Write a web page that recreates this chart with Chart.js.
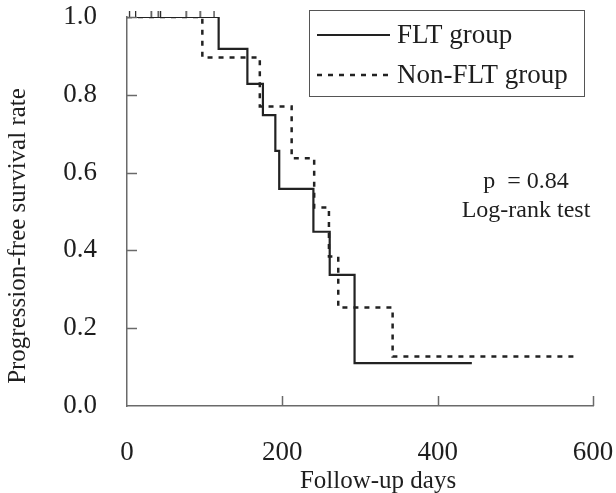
<!DOCTYPE html>
<html>
<head>
<meta charset="utf-8">
<script src="https://cdn.jsdelivr.net/npm/chart.js@4.4.0/dist/chart.umd.min.js"></script>
<style>
  html, body { margin: 0; padding: 0; background: #fff; }
</style>
</head>
<body>
<canvas id="km" width="616" height="493"></canvas>
<script>
// FLT group (solid line): day of each drop and the survival after it
var fltDays = [0, 118, 155, 175, 191, 196, 240, 261, 293, 444];
var fltSurv = [1.0, 0.918, 0.828, 0.748, 0.656, 0.558, 0.448, 0.337, 0.110, 0.110];
// Non-FLT group (dashed line)
var nonDays = [0, 97, 171, 212, 241, 260, 272, 342, 578];
var nonSurv = [1.0, 0.896, 0.770, 0.637, 0.510, 0.384, 0.253, 0.127, 0.127];
// censored cases, small ticks on the top line
var censorDays = [3, 11, 31, 40, 43, 76, 94, 112];
var censorSurv = [1, 1, 1, 1, 1, 1, 1, 1];

var xTicks = [0, 200, 400, 600];
var yTicks = [0, 0.2, 0.4, 0.6, 0.8, 1.0];
var groupNames = ['FLT group', 'Non-FLT group'];
var statLines = ['p  = 0.84', 'Log-rank test'];
var xTitle = 'Follow-up days';
var yTitle = 'Progression-free survival rate';

var SERIF = '"Liberation Serif", "DejaVu Serif", serif';
var INK = '#1e1e1e';
var AXIS = '#6a6a6a';

function pts(xs, ys) {
  return xs.map(function (x, i) { return { x: x, y: ys[i] }; });
}

// censor mark: short vertical stroke above the point
var tickImg = document.createElement('canvas');
tickImg.width = 3;
tickImg.height = 14;
var tc = tickImg.getContext('2d');
tc.fillStyle = '#222';
tc.fillRect(1, 1, 1.2, 6);

var extras = {
  id: 'extras',
  afterDraw: function (chart) {
    var ctx = chart.ctx;
    var xs = chart.scales.x, ys = chart.scales.y;
    var area = chart.chartArea;
    ctx.save();

    // inward tick marks
    ctx.strokeStyle = AXIS;
    ctx.lineWidth = 1.5;
    xTicks.forEach(function (v) {
      if (v === 0) return;
      var px = Math.round(xs.getPixelForValue(v)) + 0.5;
      ctx.beginPath();
      ctx.moveTo(px, area.bottom);
      ctx.lineTo(px, area.bottom - 10);
      ctx.stroke();
    });
    yTicks.forEach(function (v) {
      if (v === 0) return;
      var py = Math.round(ys.getPixelForValue(v)) + 0.5;
      ctx.beginPath();
      ctx.moveTo(area.left, py);
      ctx.lineTo(area.left + 10, py);
      ctx.stroke();
    });

    // axis titles
    ctx.fillStyle = INK;
    ctx.textAlign = 'center';
    ctx.textBaseline = 'middle';
    ctx.font = '25px ' + SERIF;
    ctx.fillText(xTitle, 378, 481);
    ctx.translate(18, 236);
    ctx.rotate(-Math.PI / 2);
    ctx.fillText(yTitle, 0, 0);
    ctx.setTransform(1, 0, 0, 1, 0, 0);

    // log-rank note
    ctx.font = '24px ' + SERIF;
    ctx.fillText(statLines[0], 526, 182);
    ctx.fillText(statLines[1], 526, 211);

    // legend box
    ctx.strokeStyle = '#555';
    ctx.lineWidth = 1;
    ctx.strokeRect(309.5, 10.5, 275, 86);
    ctx.font = '27px ' + SERIF;
    ctx.textAlign = 'left';
    [0, 1].forEach(function (i) {
      var ds = chart.data.datasets[i];
      var y = i === 0 ? 35 : 75;
      ctx.strokeStyle = ds.borderColor;
      ctx.lineWidth = ds.borderWidth;
      ctx.setLineDash(ds.borderDash || []);
      ctx.beginPath();
      ctx.moveTo(317, y);
      ctx.lineTo(390, y);
      ctx.stroke();
      ctx.setLineDash([]);
      ctx.fillText(groupNames[i], 397, y + 1);
    });
    ctx.restore();
  }
};

new Chart(document.getElementById('km'), {
  type: 'line',
  data: {
    datasets: [
      {
        label: groupNames[0],
        data: pts(fltDays, fltSurv),
        stepped: true,
        borderColor: '#222',
        borderWidth: 2.2,
        pointRadius: 0,
        fill: false
      },
      {
        label: groupNames[1],
        data: pts(nonDays, nonSurv),
        stepped: true,
        borderColor: '#222',
        borderWidth: 2.5,
        borderDash: [5, 6],
        pointRadius: 0,
        fill: false
      },
      {
        label: 'censored',
        data: pts(censorDays, censorSurv),
        showLine: false,
        clip: false,
        pointStyle: tickImg,
        pointRadius: 7
      }
    ]
  },
  options: {
    responsive: false,
    animation: false,
    devicePixelRatio: 1,
    layout: { padding: { top: 17, right: 23, left: 0, bottom: 0 } },
    plugins: { legend: { display: false }, tooltip: { enabled: false } },
    scales: {
      x: {
        type: 'linear',
        min: 0,
        max: 600,
        afterBuildTicks: function (s) { s.ticks = xTicks.map(function (v) { return { value: v }; }); },
        afterFit: function (s) { s.height = 87; s.paddingLeft = 0; s.paddingRight = 0; },
        grid: { display: false, drawTicks: false },
        border: { display: true, color: AXIS, width: 1.5 },
        ticks: { padding: 31, color: INK, font: { family: SERIF, size: 27 }, maxRotation: 0 }
      },
      y: {
        min: 0,
        max: 1,
        afterBuildTicks: function (s) { s.ticks = yTicks.map(function (v) { return { value: v }; }); },
        afterFit: function (s) { s.width = 127; s.paddingTop = 0; s.paddingBottom = 0; },
        grid: { display: false, drawTicks: false },
        border: { display: true, color: AXIS, width: 1.5 },
        ticks: {
          padding: 30,
          color: INK,
          font: { family: SERIF, size: 27 },
          callback: function (v) { return v.toFixed(1); }
        }
      }
    }
  },
  plugins: [extras]
});
</script>
</body>
</html>
